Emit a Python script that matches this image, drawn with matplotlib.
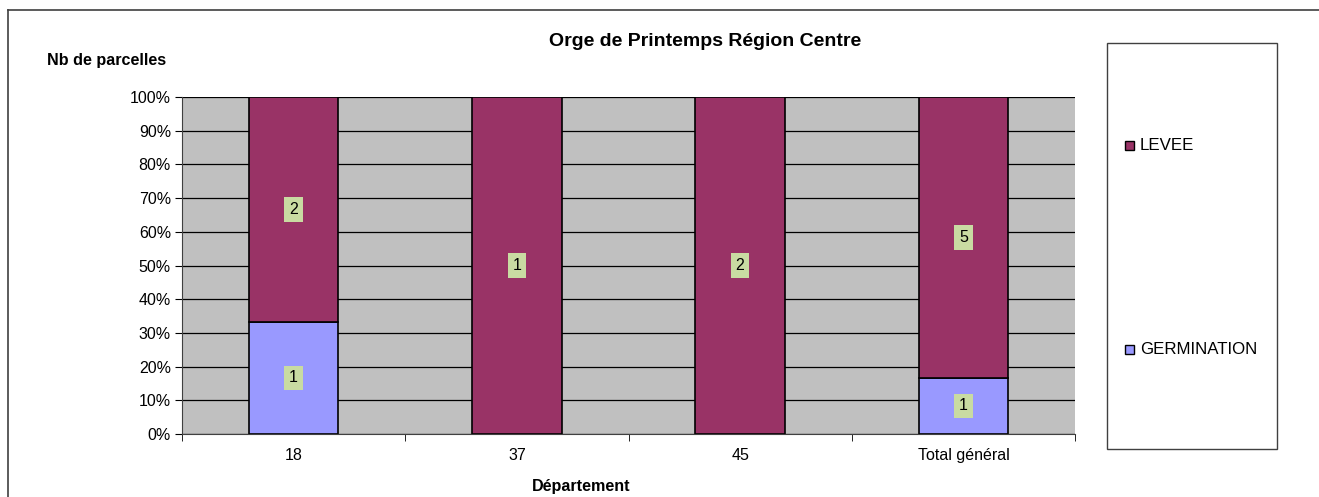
import matplotlib
matplotlib.use("Agg")
import matplotlib.pyplot as plt
from matplotlib.patches import Rectangle
from matplotlib.lines import Line2D
import numpy as np

plt.rcParams['font.family'] = ['Liberation Sans', 'DejaVu Sans']

categories = ["18", "37", "45", "Total général"]
germination = [1, 0, 0, 1]
levee = [2, 1, 2, 5]
series_names = ["GERMINATION", "LEVEE"]
colors = {"GERMINATION": "#9999FF", "LEVEE": "#993366"}
yticklabels = ["0%", "10%", "20%", "30%", "40%", "50%", "60%", "70%", "80%", "90%", "100%"]

W, H = 1319, 497
fig = plt.figure(figsize=(W / 100, H / 100), dpi=100)
fig.patch.set_facecolor("white")

def fx(px):
    return px / W

def fy(py):
    return 1 - py / H

ax = fig.add_axes([fx(182), fy(434), fx(1075) - fx(182), fy(97) - fy(434)])
ax.set_facecolor("#C0C0C0")

g = np.array(germination, dtype=float)
l = np.array(levee, dtype=float)
tot = g + l
gp = g / tot * 100
lp = l / tot * 100
x = np.arange(len(categories))
bw = 0.4

ax.set_axisbelow(True)
ax.yaxis.grid(True, color="black", linewidth=0.9)
ax.bar(x, gp, bw, color=colors["GERMINATION"], edgecolor="black", linewidth=1.2, zorder=2)
ax.bar(x, lp, bw, bottom=gp, color=colors["LEVEE"], edgecolor="black", linewidth=1.2, zorder=2)

for i in range(len(categories)):
    for val, base, h in ((g[i], 0, gp[i]), (l[i], gp[i], lp[i])):
        if val > 0:
            ax.text(x[i], base + h / 2, f"{int(val)}", ha="center", va="center",
                    fontsize=11.5, color="black", zorder=3,
                    bbox=dict(boxstyle="square,pad=0.3", facecolor="#C9DBA2", edgecolor="none"))

ax.set_xlim(-0.5, len(categories) - 0.5)
ax.set_ylim(0, 100)
ax.set_yticks(np.arange(0, 101, 10))
ax.set_yticklabels(yticklabels, fontsize=11.5)
ax.set_xticks(x)
ax.set_xticklabels(categories, fontsize=11.5)
ax.tick_params(axis="x", which="major", length=0, pad=10)
ax.set_xticks(np.arange(-0.5, len(categories), 1.0), minor=True)
ax.tick_params(axis="x", which="minor", length=5, direction="out", color="black")
ax.tick_params(axis="y", length=5, direction="out", color="black", pad=3)
for side in ("top", "right"):
    ax.spines[side].set_visible(False)
ax.spines["left"].set_color("#404040")
ax.spines["bottom"].set_color("#404040")

fig.text(fx(705), fy(42), "Orge de Printemps Région Centre", ha="center", va="center",
         fontsize=14, fontweight="bold")
fig.text(fx(47), fy(60), "Nb de parcelles", ha="left", va="center", fontsize=11.6, fontweight="bold")
fig.text(fx(581), fy(486), "Département", ha="center", va="center", fontsize=11.6, fontweight="bold")

# outer chart border
fig.add_artist(Line2D([fx(8), fx(8)], [fy(10), 0], color="#404040", linewidth=1.2, transform=fig.transFigure))
fig.add_artist(Line2D([fx(8), 1], [fy(10), fy(10)], color="#404040", linewidth=1.2, transform=fig.transFigure))

# legend box
fig.add_artist(Rectangle((fx(1107), fy(449)), fx(1277) - fx(1107), fy(43) - fy(449),
                         transform=fig.transFigure, facecolor="white", edgecolor="#404040", linewidth=1.0))
for name, py in (("LEVEE", 145), ("GERMINATION", 349)):
    fig.add_artist(Rectangle((fx(1125), fy(py + 4.5)), fx(9), 9 / H, transform=fig.transFigure,
                             facecolor=colors[name], edgecolor="black", linewidth=1.0))
    fig.text(fx(1140), fy(py), name, ha="left", va="center", fontsize=12.2)

fig.savefig("out.png", dpi=100, facecolor="white")
